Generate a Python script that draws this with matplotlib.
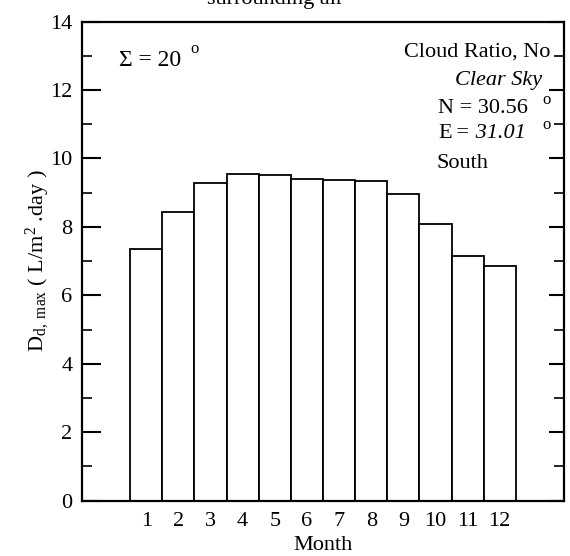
import matplotlib
matplotlib.use("Agg")
import matplotlib.pyplot as plt
from matplotlib.ticker import MultipleLocator

# Monthly maximum daily distillate yield
months = list(range(1, 13))
month_labels = [str(m) for m in months]
daily_max = [7.36, 8.43, 9.29, 9.55, 9.53, 9.40, 9.38, 9.33, 8.96, 8.08, 7.15, 6.86]
y_ticks = [0, 2, 4, 6, 8, 10, 12, 14]

plt.rcParams.update({
    "font.family": ["Liberation Serif", "DejaVu Serif"],
    "mathtext.fontset": "custom",
    "mathtext.rm": "Liberation Serif",
    "mathtext.it": "Liberation Serif:italic",
    "mathtext.bf": "Liberation Serif:bold",
})

W, H = 570, 556
fig = plt.figure(figsize=(W / 100, H / 100), dpi=100)
ax = fig.add_axes([82 / W, 1 - 500.7 / H, 482 / W, 479.2 / H])

ax.bar(months, daily_max, width=1.0, color="white", edgecolor="black",
       linewidth=1.3, zorder=2)

ax.set_xlim(-1, 14)
ax.set_ylim(0, 14)
ax.set_xticks(months)
ax.set_xticklabels(month_labels)
ax.set_yticks(y_ticks)
ax.yaxis.set_minor_locator(MultipleLocator(1))
ax.tick_params(axis="x", length=0, labelsize=16, pad=8)
ax.tick_params(axis="y", which="major", direction="in", length=14, width=1.5,
               right=True, labelsize=16, pad=7)
ax.tick_params(axis="y", which="minor", direction="in", length=7, width=1.2,
               right=True)
# slightly shorter major ticks on the right-hand spine
for t in ax.yaxis.get_major_ticks():
    t.tick2line.set_markersize(11)
for s in ax.spines.values():
    s.set_linewidth(1.6)

ax.set_xlabel("Month", fontsize=16, labelpad=3.5)
ax.set_ylabel(r"D$_{\mathrm{d,\ max}}$ ( L/m$^{\mathrm{2}}$ .day )", fontsize=16,
              va="center")
ax.yaxis.set_label_coords(-0.092, 0.5)


def px(x, y):
    """Axes-fraction coordinates of a figure pixel."""
    return (x - 82) / 482, (500.7 - y) / 479.2


def note(x, y, s, **kw):
    ax.text(*px(x, y), s, transform=ax.transAxes, **kw)


# Annotations inside the plot
note(119, 66, "\u03a3 = 20", fontsize=17, ha="left", va="baseline")
note(195, 49, "o", fontsize=12, ha="center", va="center")

note(550, 57, "Cloud Ratio, No", fontsize=16, ha="right", va="baseline")
note(542, 85, "Clear Sky", fontsize=16, style="italic", ha="right",
     va="baseline")
note(438, 113, "N = 30.56", fontsize=16, ha="left", va="baseline")
note(547, 100, "o", fontsize=12, ha="center", va="center")
note(438, 138, "E", fontsize=16, ha="left", va="baseline")
note(455, 138, "= 31.01", fontsize=16, style="italic", ha="left",
     va="baseline")
note(547, 125, "o", fontsize=12, ha="center", va="center")
note(437, 168, "South", fontsize=16, ha="left", va="baseline")

# Heading, mostly above the top edge of the figure
fig.text(275 / W, 1 - 4 / H, "surrounding air", fontsize=16, ha="center",
         va="baseline")

fig.savefig("out.png", dpi=100)
